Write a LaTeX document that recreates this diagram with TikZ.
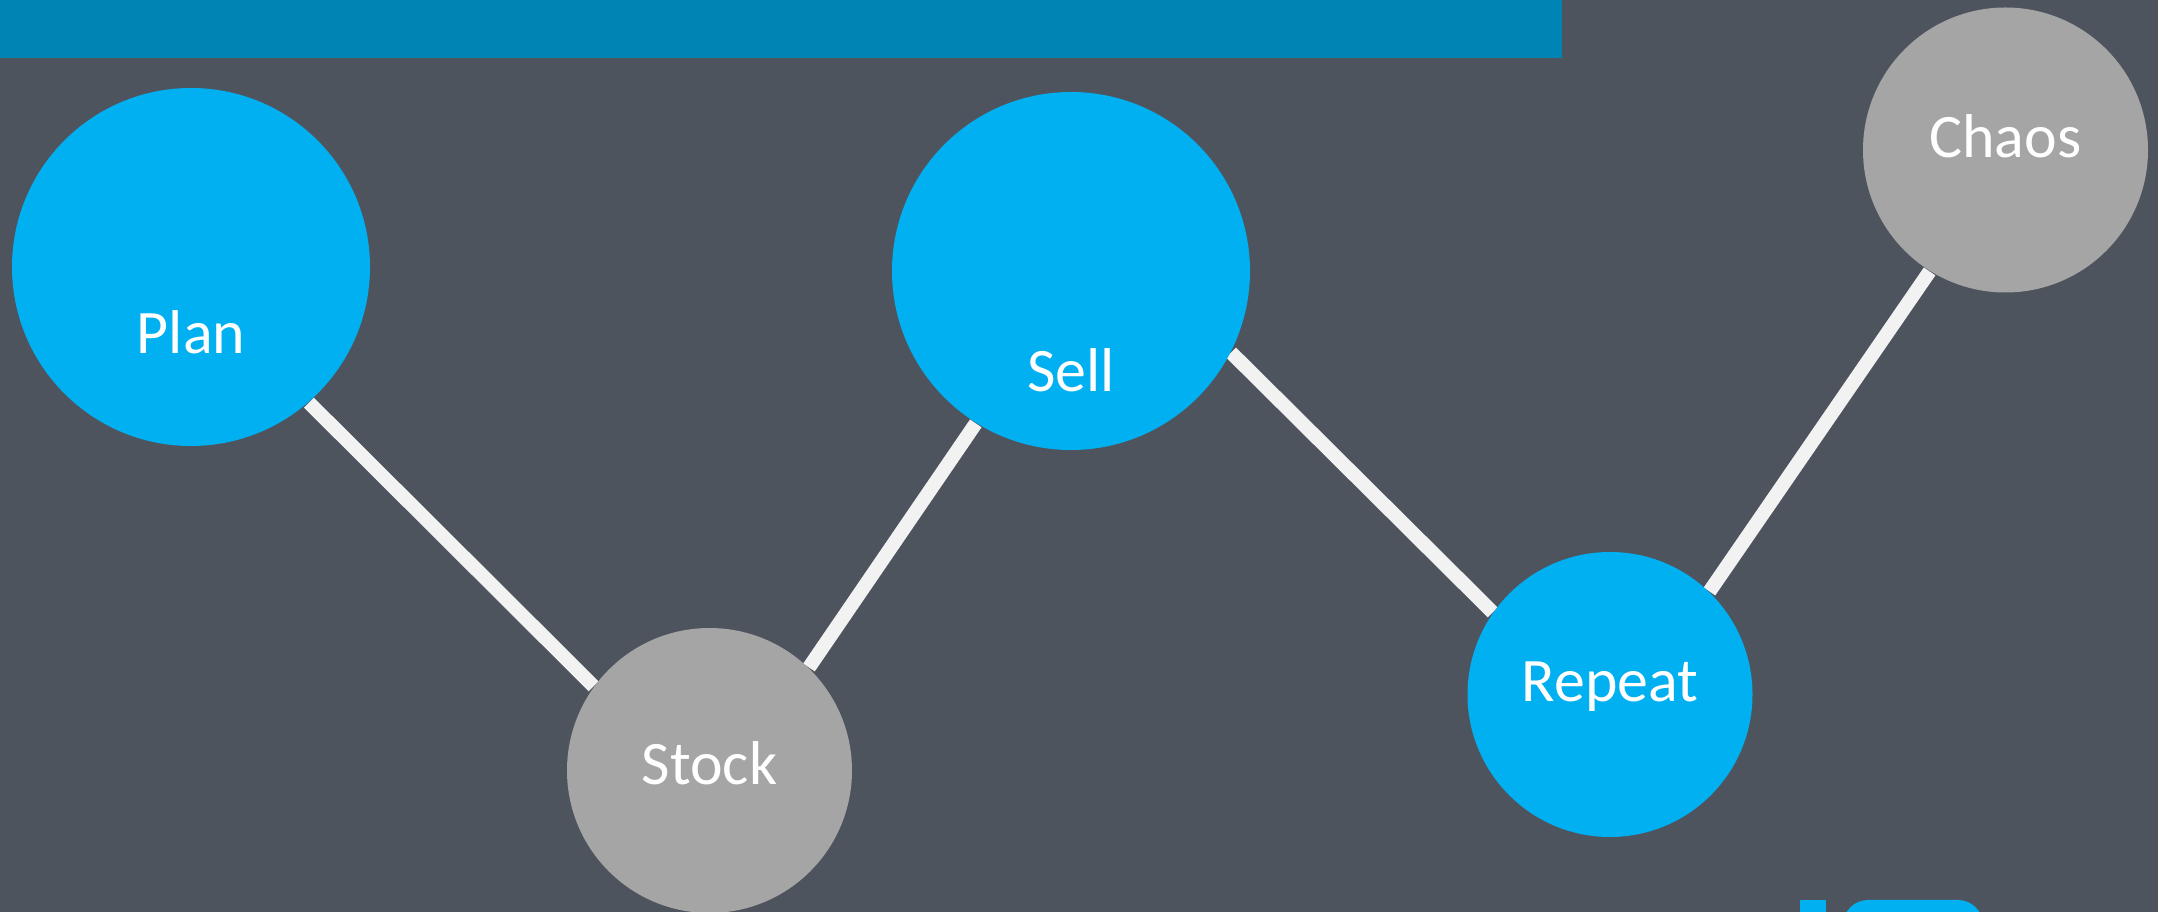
\documentclass[tikz,border=0pt]{standalone}
\usepackage{fontspec}
\setmainfont{Carlito}
\usetikzlibrary{backgrounds}

\definecolor{slate}{HTML}{4E545E}
\definecolor{barblue}{HTML}{0084B4}
\definecolor{skyblue}{HTML}{00B0F0}
\definecolor{stone}{HTML}{A5A5A5}
\definecolor{chalk}{HTML}{F2F2F2}

\begin{document}
\begin{tikzpicture}[
    big/.style={circle, fill=skyblue, minimum size=3.58cm, inner sep=0pt},
    small/.style={circle, fill=stone, minimum size=2.85cm, inner sep=0pt},
    word/.style={text=white, font=\fontsize{17.6}{21}\selectfont, text height=0.40cm, text depth=0pt, inner sep=0pt},
    link/.style={draw=chalk, line width=0.14cm}]
	\useasboundingbox (0, 0) rectangle (21.58, 9.12);

	% the five steps
	\node[big] (plan) at (1.91, 6.45) {};
	\node[big] (sell) at (10.71, 6.41) {};
	\node[small] (stock) at (7.095, 1.415) {};
	\node[small, fill=skyblue] (repeat) at (16.10, 2.175) {};
	\node[small] (chaos) at (20.055, 7.62) {};

	\node[word] (plan text) at ([yshift=-0.67cm]plan) {Plan};
	\node[word] (sell text) at ([yshift=-1.01cm]sell) {Sell};
	\node[word] (stock text) at ([yshift=0.06cm]stock) {Stock};
	\node[word] (repeat text) at ([yshift=0.13cm]repeat) {Repeat};
	\node[word] (chaos text) at ([yshift=0.12cm]chaos) {Chaos};

	\begin{scope}[on background layer]
	  \fill[slate] (0, 0) rectangle (21.58, 9.12);
	  \fill[barblue] (0, 8.54) rectangle (15.62, 9.12);
	  % zigzag between the steps
	  \draw[link] (plan.-49) -- (stock.144);
	  \draw[link] (stock.46) -- (sell.238);
	  \draw[link] (sell.-27) -- (repeat.145);
	  \draw[link] (repeat.46) -- (chaos.238);
	  % logo peeking in at the bottom edge
	  \clip (0, 0) rectangle (21.58, 9.12);
	  \fill[skyblue] (18.00, -0.1) rectangle (18.26, 0.12);
	  \fill[skyblue, rounded corners=0.25cm] (18.43, -0.5) rectangle (19.83, 0.12);
	\end{scope}
\end{tikzpicture}
\end{document}
